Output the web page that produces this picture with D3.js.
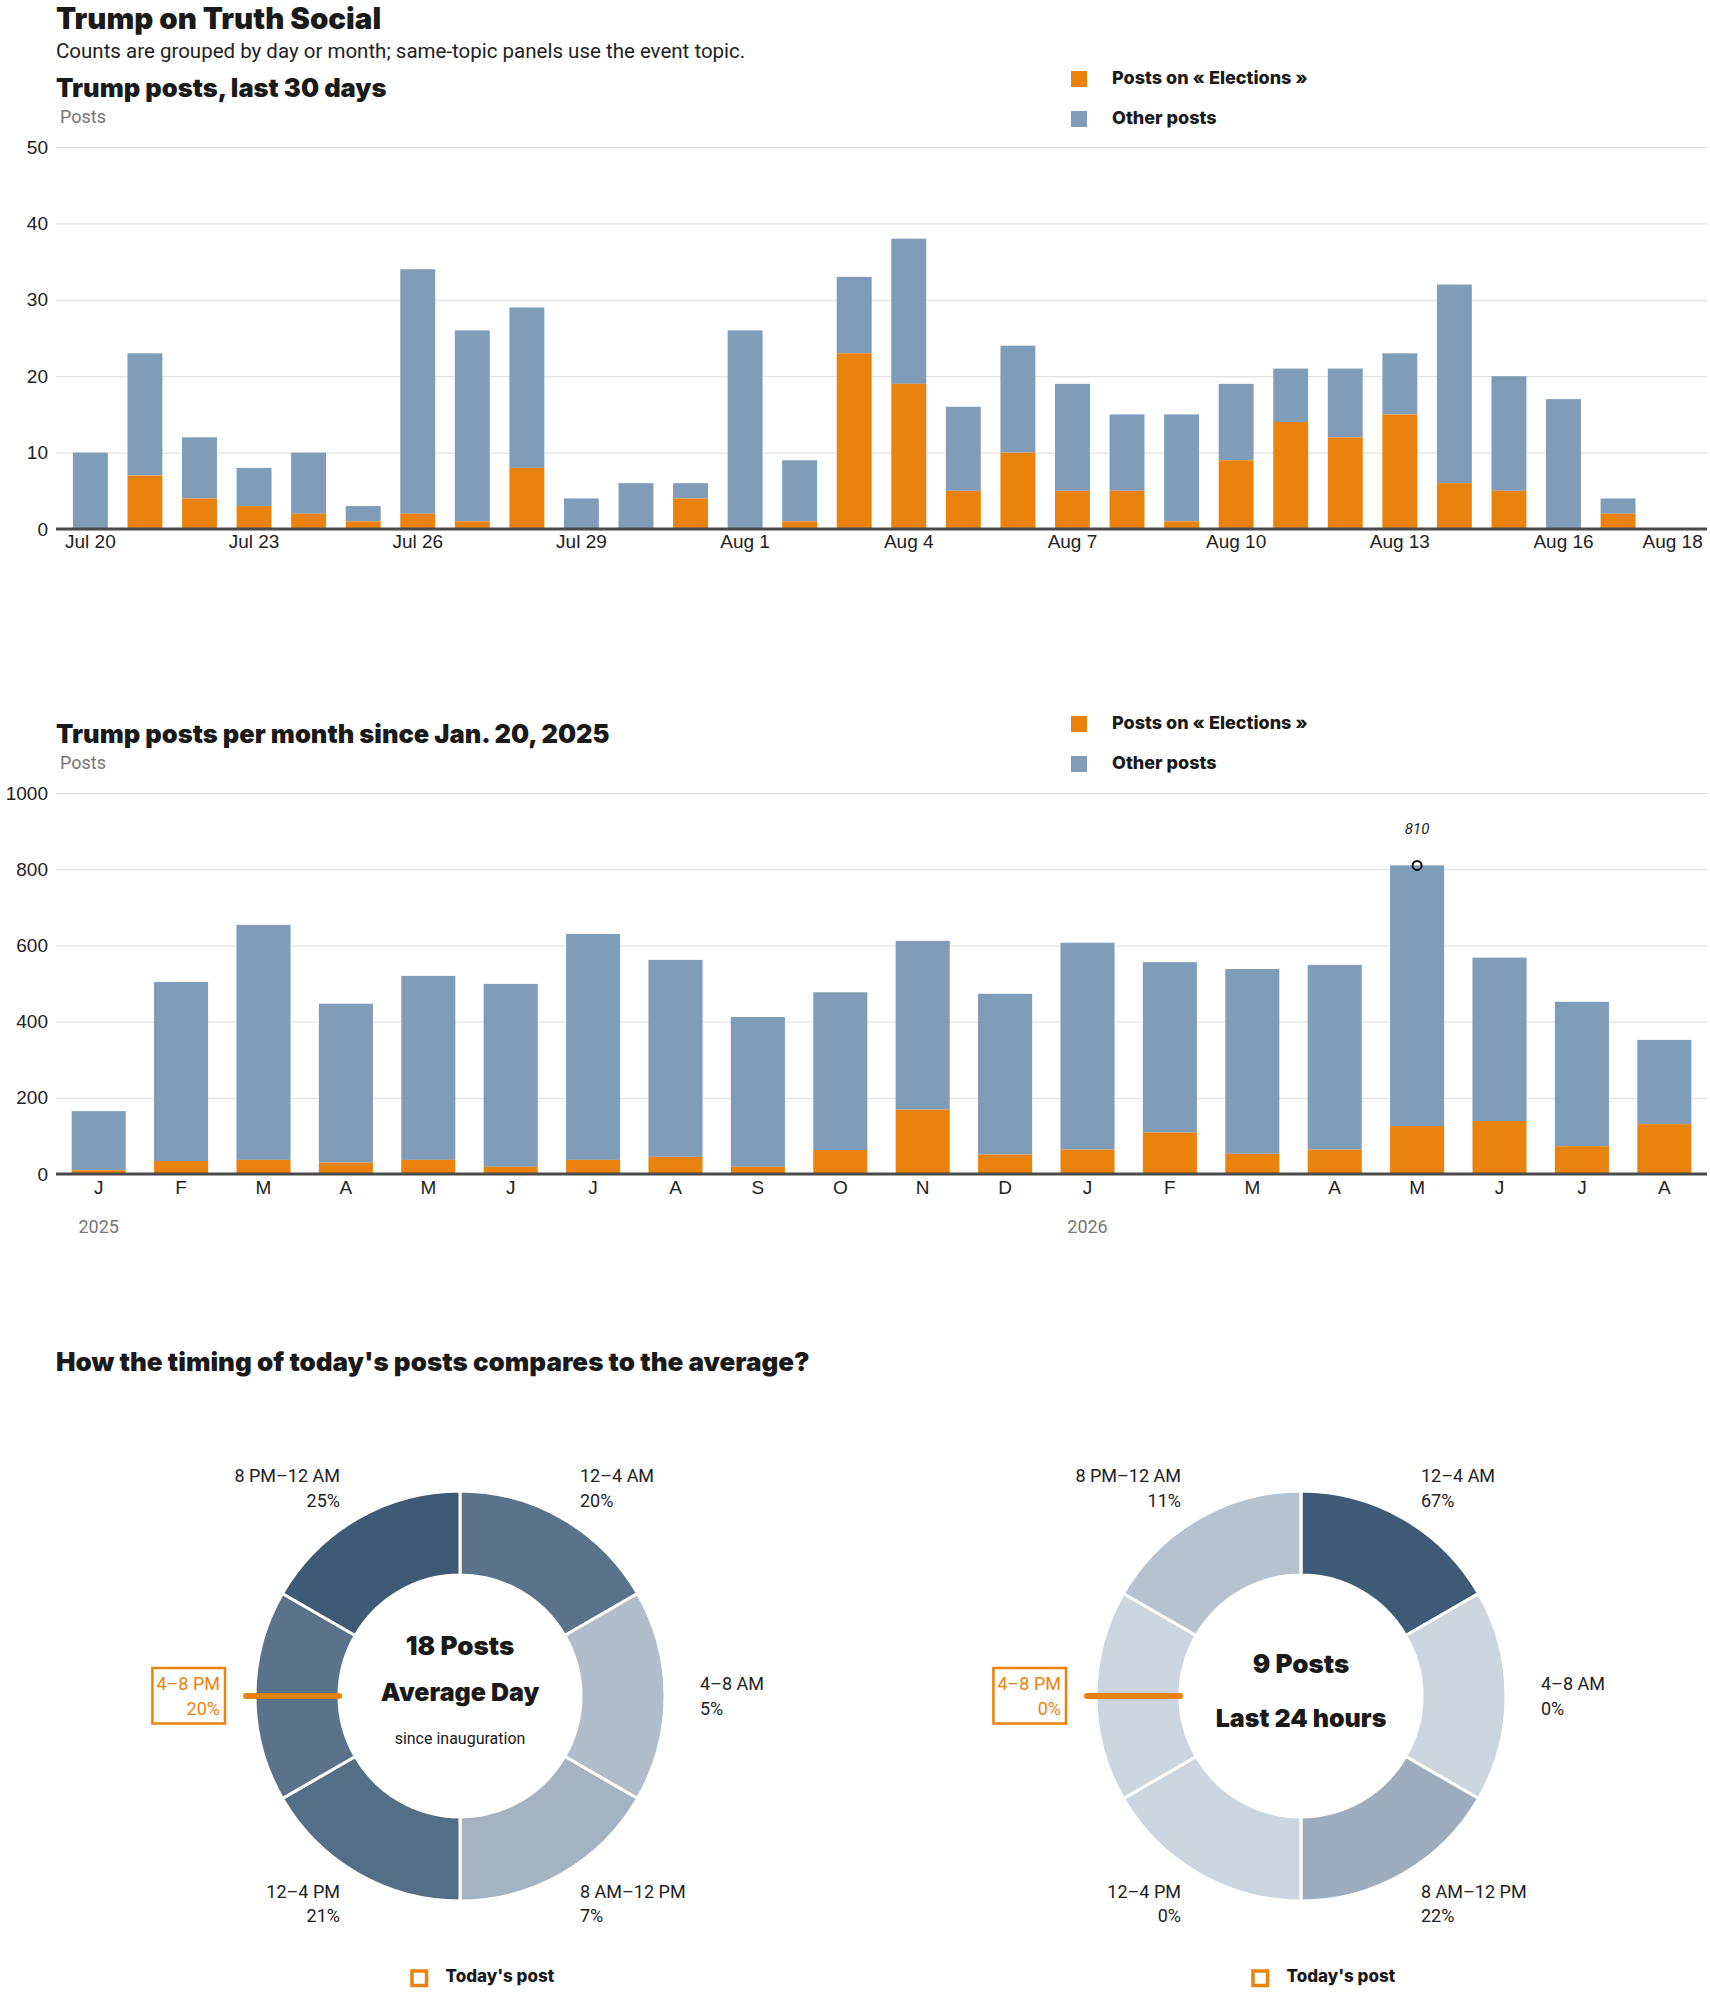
<!DOCTYPE html>
<html>
<head>
<meta charset="utf-8">
<script src="https://cdn.jsdelivr.net/npm/d3@7"></script>
<style>
  body { margin: 0; background: #fff; }
  svg { display: block; font-family: Roboto, "Noto Sans", sans-serif; }
  .heavy { font-family: Inter, Roboto, sans-serif; }
  .tick text { font-size: 19px; fill: #222; }
</style>
</head>
<body>
<script>
// ---- data ----
var days = ['Jul 20', 'Jul 21', 'Jul 22', 'Jul 23', 'Jul 24', 'Jul 25', 'Jul 26', 'Jul 27', 'Jul 28', 'Jul 29',
    'Jul 30', 'Jul 31', 'Aug 1', 'Aug 2', 'Aug 3', 'Aug 4', 'Aug 5', 'Aug 6', 'Aug 7', 'Aug 8',
    'Aug 9', 'Aug 10', 'Aug 11', 'Aug 12', 'Aug 13', 'Aug 14', 'Aug 15', 'Aug 16', 'Aug 17', 'Aug 18'];
var dayElections = [0, 7, 4, 3, 2, 1, 2, 1, 8, 0, 0, 4, 0, 1, 23, 19, 5, 10, 5, 5, 1, 9, 14, 12, 15, 6, 5, 0, 2, 0];
var dayOther = [10, 16, 8, 5, 8, 2, 32, 25, 21, 4, 6, 2, 26, 8, 10, 19, 11, 14, 14, 10, 14, 10, 7, 9, 8, 26, 15, 17, 2, 0];
var dayTicks = ['Jul 20', 'Jul 23', 'Jul 26', 'Jul 29', 'Aug 1', 'Aug 4', 'Aug 7', 'Aug 10', 'Aug 13', 'Aug 16', 'Aug 18'];

var months = ['J', 'F', 'M', 'A', 'M', 'J', 'J', 'A', 'S', 'O', 'N', 'D', 'J', 'F', 'M', 'A', 'M', 'J', 'J', 'A'];
var monthElections = [10, 34, 37, 30, 37, 19, 37, 45, 19, 63, 169, 51, 64, 109, 53, 64, 126, 139, 73, 131];
var monthOther = [155, 470, 617, 417, 483, 480, 593, 517, 393, 414, 443, 422, 543, 447, 485, 485, 684, 429, 379, 221];
var yearLabels = [{i: 0, text: '2025'}, {i: 12, text: '2026'}];

var slots = ['12–4 AM', '4–8 AM', '8 AM–12 PM', '12–4 PM', '4–8 PM', '8 PM–12 AM'];
var avgShare = [20, 5, 7, 21, 20, 25];
var todayShare = [67, 0, 22, 0, 0, 11];
var currentSlot = 4;

var orange = '#e9830e',
    blue = '#7f9db9',
    width = 1710,
    height = 1993,
    left = 56,
    right = 1707;

var svg = d3.select('body').append('svg')
    .attr('width', width)
    .attr('height', height);

function text(x, y, str, size, weight, color) {
    return svg.append('text')
        .attr('x', x)
        .attr('y', y)
        .attr('font-size', size)
        .attr('font-weight', weight || 400)
        .attr('class', weight > 700 ? 'heavy' : null)
        .attr('fill', color || '#222')
        .text(str);
}

text(left, 29, 'Trump on Truth Social', 29.5, 900, '#1a1a1a');
text(left, 58, 'Counts are grouped by day or month; same-topic panels use the event topic.', 20.5);

function legend(y0) {
    [{label: 'Posts on « Elections »', color: orange}, {label: 'Other posts', color: blue}]
        .forEach(function(d, i) {
            svg.append('rect')
                .attr('x', 1071)
                .attr('y', y0 + i * 40)
                .attr('width', 16)
                .attr('height', 16)
                .attr('fill', d.color);
            text(1112, y0 + i * 40 + 13, d.label, 18, 800, '#1a1a1a');
        });
}

// stacked bar panel
function barPanel(opt) {
    var x = d3.scaleBand()
        .domain(d3.range(opt.cats.length))
        .range([left, right])
        .paddingInner(opt.pi)
        .paddingOuter(opt.po);
    var y = d3.scaleLinear()
        .domain([0, opt.max])
        .range([opt.bottom, opt.top]);

    text(left, opt.top - 50, opt.title, 25.5, 900, '#1a1a1a');
    text(60, opt.top - 24, 'Posts', 18, 400, '#767676');
    legend(opt.legendY);

    var g = svg.append('g');
    g.append('g')
        .attr('transform', 'translate(' + left + ',0)')
        .call(d3.axisLeft(y).tickValues(opt.yTicks).tickFormat(d3.format('d'))
            .tickSize(-(right - left)).tickPadding(8))
        .call(function(a) {
            a.select('.domain').remove();
            a.selectAll('.tick line').attr('stroke', '#dcdcdc');
        });

    var rows = opt.cats.map(function(c, i) {
        return {i: i, e: opt.elections[i], o: opt.other[i]};
    });
    g.selectAll('.other').data(rows).enter().append('rect')
        .attr('x', function(d) { return x(d.i); })
        .attr('width', x.bandwidth())
        .attr('y', function(d) { return y(d.e + d.o); })
        .attr('height', function(d) { return y(d.e) - y(d.e + d.o); })
        .attr('fill', blue);
    g.selectAll('.elec').data(rows).enter().append('rect')
        .attr('x', function(d) { return x(d.i); })
        .attr('width', x.bandwidth())
        .attr('y', function(d) { return y(d.e); })
        .attr('height', function(d) { return y(0) - y(d.e); })
        .attr('fill', orange);

    g.append('g')
        .attr('transform', 'translate(0,' + opt.bottom + ')')
        .call(d3.axisBottom(x)
            .tickValues(opt.tickIdx)
            .tickFormat(function(i) { return opt.cats[i]; })
            .tickSize(0)
            .tickPadding(opt.tickPad))
        .call(function(a) { a.select('.domain').remove(); });

    g.append('line')
        .attr('x1', left)
        .attr('x2', right)
        .attr('y1', opt.bottom)
        .attr('y2', opt.bottom)
        .attr('stroke', '#4a4a4a')
        .attr('stroke-width', 3);
    return {x: x, y: y};
}

barPanel({
    cats: days, elections: dayElections, other: dayOther,
    tickIdx: dayTicks.map(function(t) { return days.indexOf(t); }),
    pi: 0.36, po: 0.31, max: 50, yTicks: [0, 10, 20, 30, 40, 50],
    top: 147, bottom: 529, tickPad: 6, legendY: 71,
    title: 'Trump posts, last 30 days'
});

var m = barPanel({
    cats: months, elections: monthElections, other: monthOther,
    tickIdx: d3.range(months.length),
    pi: 0.344, po: 0.19, max: 1000, yTicks: [0, 200, 400, 600, 800, 1000],
    top: 793, bottom: 1174, tickPad: 7, legendY: 716,
    title: 'Trump posts per month since Jan. 20, 2025'
});

yearLabels.forEach(function(d) {
    text(m.x(d.i) + m.x.bandwidth() / 2, 1233, d.text, 18, 400, '#767676')
        .attr('text-anchor', 'middle');
});

// peak annotation
var totals = monthOther.map(function(o, i) { return o + monthElections[i]; }),
    peak = d3.maxIndex(totals),
    px = m.x(peak) + m.x.bandwidth() / 2;
svg.append('circle')
    .attr('cx', px)
    .attr('cy', m.y(totals[peak]))
    .attr('r', 4.5)
    .attr('fill', 'none')
    .attr('stroke', '#111')
    .attr('stroke-width', 2);
text(px, m.y(totals[peak]) - 31, totals[peak], 15, 400, '#222')
    .attr('font-style', 'italic')
    .attr('text-anchor', 'middle');

// donuts
text(left, 1371, "How the timing of today's posts compares to the average?", 26, 900, '#1a1a1a');

var cy = 1696,
    rOut = 205,
    rIn = 121,
    rLabel = 240;

var pie = d3.pie().sort(null).value(function() { return 1; });
var arc = d3.arc().innerRadius(rIn).outerRadius(rOut);

function donut(cx, shares, lines) {
    var shade = d3.scaleLinear()
        .domain([0, d3.max(shares)])
        .range(['#ccd6e0', '#3e5a76']);
    var g = svg.append('g').attr('transform', 'translate(' + cx + ',' + cy + ')');

    g.selectAll('path').data(pie(shares)).enter().append('path')
        .attr('d', arc)
        .attr('fill', function(d) { return shade(d.data); })
        .attr('stroke', '#fff')
        .attr('stroke-width', 3);

    g.append('line')
        .attr('x1', -214)
        .attr('x2', -rIn)
        .attr('stroke', orange)
        .attr('stroke-width', 6)
        .attr('stroke-linecap', 'round');

    pie(shares).forEach(function(d, i) {
        var a = (d.startAngle + d.endAngle) / 2,
            lx = rLabel * Math.sin(a),
            ly = -rLabel * Math.cos(a),
            hot = i === currentSlot,
            col = hot ? orange : '#222';
        var t = g.append('text')
            .attr('font-size', 18)
            .attr('fill', col)
            .attr('text-anchor', lx > 1 ? 'start' : 'end');
        t.append('tspan').attr('x', lx).attr('y', ly - 6).text(slots[i]);
        t.append('tspan').attr('x', lx).attr('y', ly + 18.5).text(shares[i] + '%');
        if (hot) {
            var b = t.node().getBBox();
            g.insert('rect', 'text')
                .attr('x', b.x - 4)
                .attr('y', b.y - 5)
                .attr('width', b.width + 9)
                .attr('height', b.height + 10)
                .attr('fill', 'none')
                .attr('stroke', orange)
                .attr('stroke-width', 2.5);
        }
    });

    lines.forEach(function(l) {
        g.append('text')
            .attr('y', l.y - cy)
            .attr('text-anchor', 'middle')
            .attr('font-size', l.size)
            .attr('font-weight', l.weight)
            .attr('class', l.weight > 700 ? 'heavy' : null)
            .attr('fill', '#1a1a1a')
            .text(l.text);
    });

    g.append('rect')
        .attr('x', -48)
        .attr('y', 1971 - cy)
        .attr('width', 14.5)
        .attr('height', 14.5)
        .attr('fill', 'none')
        .attr('stroke', orange)
        .attr('stroke-width', 3.5);
    g.append('text')
        .attr('x', -14.5)
        .attr('y', 1982 - cy)
        .attr('font-size', 17)
        .attr('font-weight', 800)
        .attr('class', 'heavy')
        .attr('fill', '#1a1a1a')
        .text("Today's post");
}

donut(460, avgShare, [
    {text: '18 Posts', y: 1655, size: 26, weight: 900},
    {text: 'Average Day', y: 1701, size: 25, weight: 900},
    {text: 'since inauguration', y: 1744, size: 16, weight: 400}
]);
donut(1301, todayShare, [
    {text: '9 Posts', y: 1673, size: 26, weight: 900},
    {text: 'Last 24 hours', y: 1727, size: 25, weight: 900}
]);
</script>
</body>
</html>
